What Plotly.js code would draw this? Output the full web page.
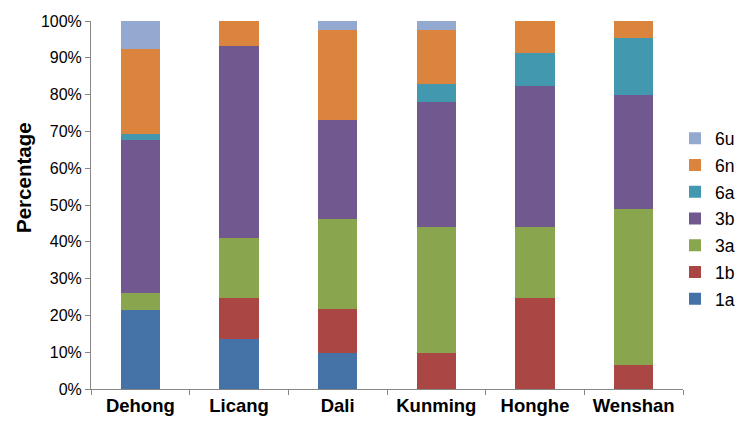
<!DOCTYPE html>
<html>
<head>
<meta charset="utf-8">
<script src="https://cdn.plot.ly/plotly-3.0.1.min.js"></script>
<style>html,body{margin:0;padding:0;background:#fff;}#chart{width:750px;height:435px;}</style>
</head>
<body>
<div id="chart"></div>
<script>
var categories = ["Dehong", "Licang", "Dali", "Kunming", "Honghe", "Wenshan"];
var seriesNames = ["1a", "1b", "3a", "3b", "6a", "6n", "6u"];
var s1a = [21.5, 13.5, 9.8, 0, 0, 0];
var s1b = [0, 11.3, 12.0, 9.8, 24.6, 6.5];
var s3a = [4.5, 16.1, 24.4, 34.1, 19.3, 42.5];
var s3b = [41.6, 52.3, 27.0, 34.1, 38.5, 31.0];
var s6a = [1.7, 0, 0, 4.9, 8.8, 15.5];
var s6n = [23.1, 6.8, 24.4, 14.7, 8.8, 4.5];
var s6u = [7.6, 0, 2.4, 2.4, 0, 0];
var yTickVals = [0, 10, 20, 30, 40, 50, 60, 70, 80, 90, 100];
var yTickText = ["0%", "10%", "20%", "30%", "40%", "50%", "60%", "70%", "80%", "90%", "100%"];
var colors = ["#4572A7", "#AA4643", "#89A54E", "#71588F", "#4198AF", "#DB843D", "#93A9CF"];
var allSeries = [s1a, s1b, s3a, s3b, s6a, s6n, s6u];

var traces = allSeries.map(function (vals, i) {
  return {
    type: "bar",
    name: seriesNames[i],
    legendgroup: seriesNames[i],
    legendrank: 1000 - i,
    x: categories,
    y: vals,
    marker: { color: colors[i], line: { width: 0 } },
    hoverinfo: "x+y+name"
  };
});

var layout = {
  width: 750,
  height: 435,
  margin: { l: 91, r: 67, t: 21, b: 46, autoexpand: false },
  barmode: "stack",
  barnorm: "percent",
  bargap: 0.6,
  paper_bgcolor: "#ffffff",
  plot_bgcolor: "#ffffff",
  font: { family: "Liberation Sans, Arial, sans-serif", color: "#000" },
  showlegend: true,
  legend: {
    traceorder: "grouped",
    xref: "container", yref: "container",
    x: 0.9, xanchor: "left",
    y: 0.4966, yanchor: "middle",
    font: { size: 17.5, color: "#000" },
    itemwidth: 30,
    tracegroupgap: 1,
    bgcolor: "rgba(0,0,0,0)"
  },
  annotations: [{
    text: "Percentage",
    xref: "paper", yref: "paper",
    x: -0.115, y: 0.576,
    xanchor: "center", yanchor: "middle",
    textangle: -90,
    showarrow: false,
    font: { size: 20.5, weight: "bold", color: "#000" }
  }],
  xaxis: {
    type: "category",
    showline: true,
    linecolor: "#868686",
    linewidth: 1,
    ticks: "outside",
    tickson: "boundaries",
    ticklen: 5,
    tickcolor: "#868686",
    showgrid: false,
    tickfont: { size: 18.5, weight: "bold" }
  },
  yaxis: {
    range: [0, 100],
    tickvals: yTickVals,
    ticktext: yTickText,
    showline: true,
    linecolor: "#868686",
    linewidth: 1,
    ticks: "outside",
    ticklen: 5,
    tickcolor: "#868686",
    showgrid: false,
    zeroline: false,
    tickfont: { size: 16 }
  }
};

Plotly.newPlot("chart", traces, layout, { displayModeBar: false, staticPlot: true });
</script>
</body>
</html>
